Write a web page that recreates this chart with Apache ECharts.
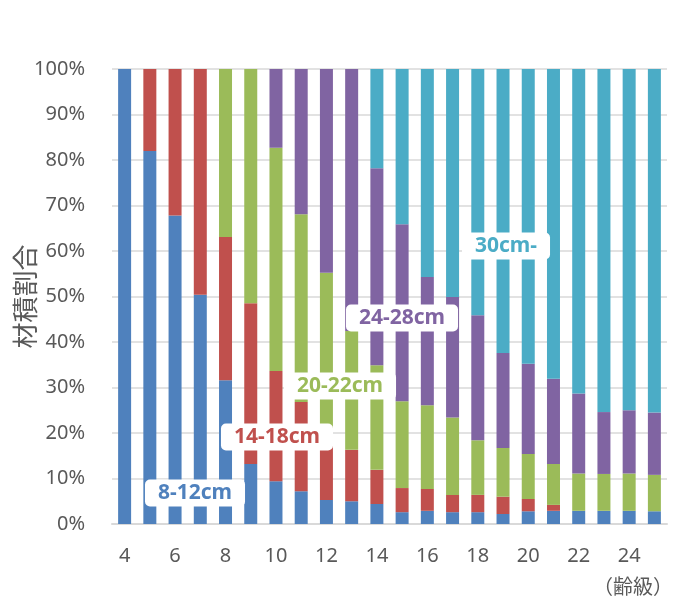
<!DOCTYPE html>
<html>
<head>
<meta charset="utf-8">
<script src="https://cdn.jsdelivr.net/npm/echarts@6/dist/echarts.min.js"></script>
<style>
  html, body { margin: 0; padding: 0; background: #fff; }
  #chart { width: 674px; height: 600px; }
</style>
</head>
<body>
<div id="chart"></div>
<script>
// 齢級
const categories = ["4","5","6","7","8","9","10","11","12","13","14","15","16","17","18","19","20","21","22","23","24","25"];

// 材積割合 (%) by diameter class
const d8_12  = [100, 82.0, 67.8, 50.4, 31.6, 13.2, 9.4, 7.2, 5.3, 5.0, 4.4, 2.6, 2.9, 2.6, 2.6, 2.2, 2.8, 2.9, 2.9, 2.9, 2.9, 2.8];
const d14_18 = [0, 18.0, 32.2, 49.6, 31.5, 35.3, 24.2, 19.6, 15.0, 11.3, 7.5, 5.3, 4.8, 3.8, 3.8, 3.8, 2.7, 1.3, 0, 0, 0, 0];
const d20_22 = [0, 0, 0, 0, 36.9, 51.5, 49.1, 41.3, 34.9, 26.1, 23.0, 19.1, 18.4, 17.0, 12.0, 10.7, 9.9, 9.0, 8.2, 8.1, 8.2, 8.0];
const d24_28 = [0, 0, 0, 0, 0, 0, 17.3, 31.9, 44.8, 57.6, 43.3, 38.9, 28.2, 26.5, 27.5, 20.9, 19.8, 18.7, 17.6, 13.6, 13.9, 13.7];
const d30    = [0, 0, 0, 0, 0, 0, 0, 0, 0, 0, 21.8, 34.1, 45.7, 50.1, 54.1, 62.4, 64.8, 68.1, 71.3, 75.4, 75.0, 75.5];

const seriesNames = ["8-12cm", "14-18cm", "20-22cm", "24-28cm", "30cm-"];
const seriesData = [d8_12, d14_18, d20_22, d24_28, d30];
const colors = ["#4F81BD", "#C0504D", "#9BBB59", "#8064A2", "#4BACC6"];

const textGrey = "#595959";
const latin = "'Noto Sans', 'Noto Sans CJK JP', sans-serif";
const cjk = "'Noto Sans CJK JP', sans-serif";

const myChart = echarts.init(document.getElementById("chart"));

// 系列名ラベル (白い角丸ボックス)
function seriesTag(text, color, cx, cy) {
  return {
    type: "text",
    x: cx,
    y: cy,
    style: {
      text: text,
      fill: color,
      font: "bold 21px " + latin,
      align: "center",
      verticalAlign: "middle",
      backgroundColor: "#fff",
      borderRadius: 5,
      padding: [3, 13, 3, 13],
    },
    z: 100,
  };
}

const option = {
  animation: false,
  backgroundColor: "#fff",
  grid: {
    left: 112,
    right: 7,
    top: 69,
    bottom: 76,
    outerBoundsMode: "none",
    containLabel: false,
  },
  xAxis: {
    type: "category",
    data: categories,
    axisTick: { show: false },
    axisLine: { lineStyle: { color: "#d9d9d9", width: 2 } },
    axisLabel: {
      interval: 1,
      color: textGrey,
      fontSize: 20,
      fontFamily: latin,
      margin: 22,
    },
  },
  yAxis: {
    type: "value",
    min: 0,
    max: 100,
    interval: 10,
    name: "材積割合",
    nameLocation: "middle",
    nameRotate: 90,
    nameGap: 74,
    nameMoveOverlap: false,
    nameTextStyle: { color: textGrey, fontSize: 26, fontFamily: cjk },
    axisLine: { show: false },
    axisTick: { show: false },
    axisLabel: {
      formatter: "{value}%",
      color: textGrey,
      fontSize: 20,
      fontFamily: latin,
      margin: 27,
    },
    splitLine: { lineStyle: { color: "#d9d9d9", width: 1.5 } },
  },
  series: seriesNames.map((name, i) => ({
    type: "bar",
    name: name,
    stack: "total",
    data: seriesData[i],
    barWidth: 13,
    itemStyle: { color: colors[i] },
  })),
  graphic: [
    seriesTag("8-12cm", colors[0], 195, 493),
    seriesTag("14-18cm", colors[1], 277, 437),
    seriesTag("20-22cm", colors[2], 340, 386),
    seriesTag("24-28cm", colors[3], 402, 318),
    seriesTag("30cm-", colors[4], 506, 246),
    {
      type: "text",
      x: 673,
      y: 586,
      style: {
        text: "（齢級）",
        fill: textGrey,
        font: "20px " + cjk,
        align: "right",
        verticalAlign: "middle",
      },
    },
  ],
};

myChart.setOption(option);
window.addEventListener("resize", () => {
  myChart.resize();
});
</script>
</body>
</html>
